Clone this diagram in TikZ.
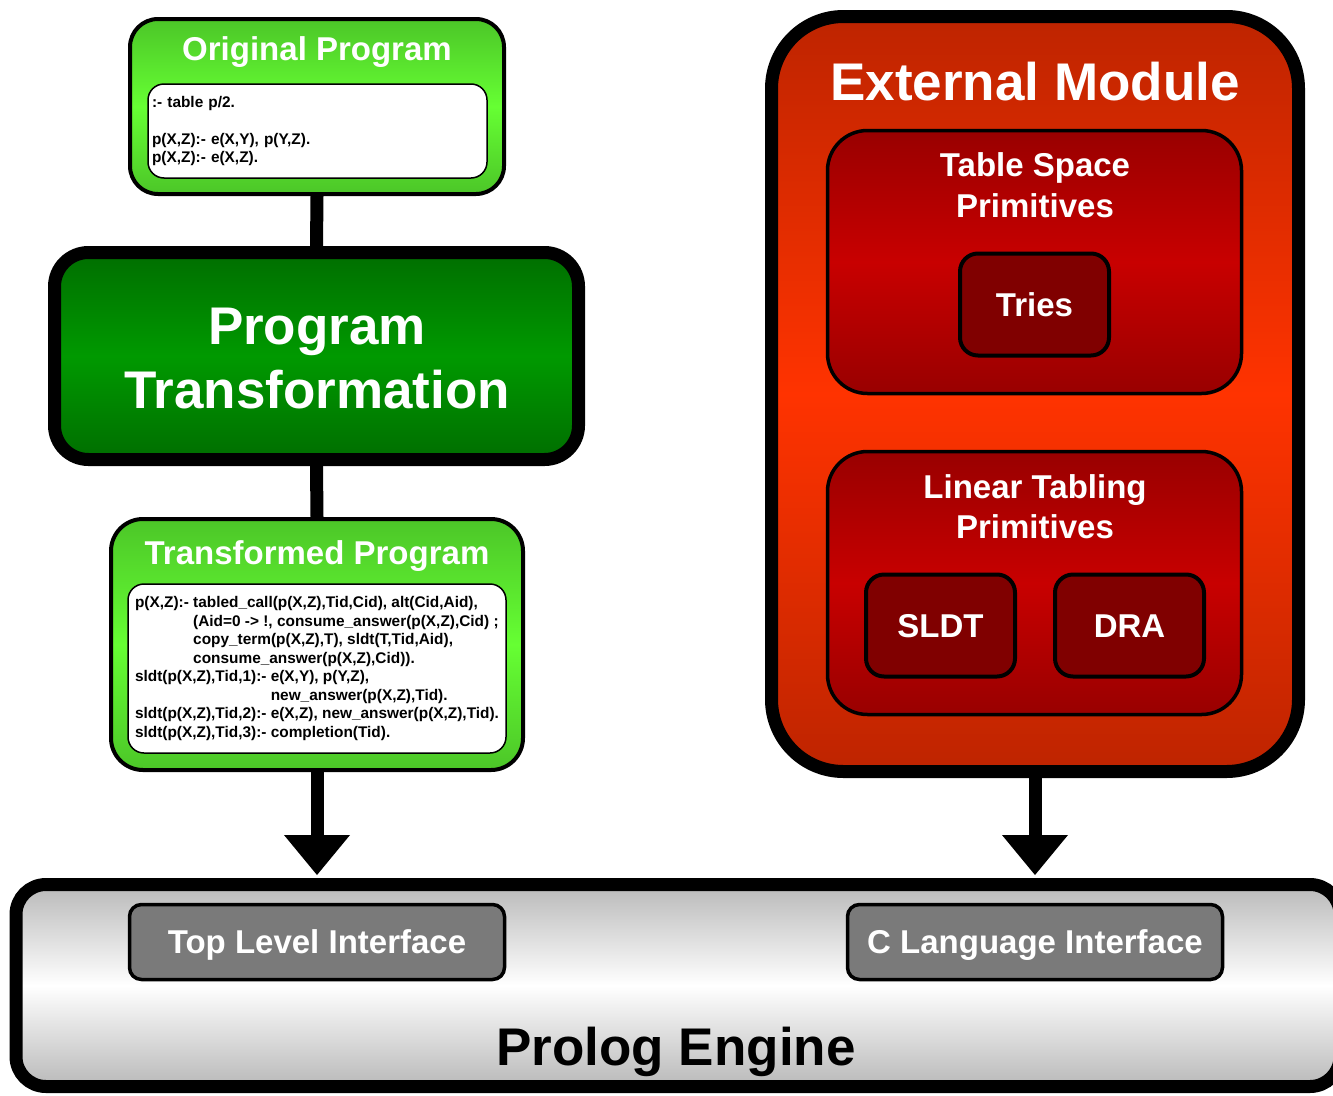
\documentclass[tikz,border=0pt]{standalone}
\usepackage{fontspec}
\setmainfont{Liberation Sans}
\usetikzlibrary{arrows.meta}
\definecolor{grnedge}{RGB}{76,198,40}
\definecolor{grnmid}{RGB}{102,255,51}
\definecolor{dgedge}{RGB}{0,110,0}
\definecolor{dgmid}{RGB}{0,153,0}
\definecolor{extedge}{RGB}{190,36,0}
\definecolor{extmid}{RGB}{255,51,0}
\definecolor{tsedge}{RGB}{153,0,0}
\definecolor{tsmid}{RGB}{200,0,0}
\definecolor{leaf}{RGB}{128,0,0}
\definecolor{peedge}{RGB}{185,185,185}
\definecolor{ifgray}{RGB}{122,122,122}
\begin{document}
\begin{tikzpicture}[x=1pt,y=-1pt,
  box/.style={draw=black, inner sep=0pt, anchor=center},
  greenbox/.style={box, line width=4pt, rounded corners=28pt, top color=grnedge, bottom color=grnedge, middle color=grnmid},
  codebox/.style={box, line width=1.5pt, rounded corners=16pt, fill=white, font=\bfseries\fontsize{15.4}{18.5}\selectfont},
  midtitle/.style={text=white, font=\bfseries\fontsize{33}{40}\selectfont, anchor=base, inner sep=0pt},
  bigtitle/.style={text=white, font=\bfseries\fontsize{53}{64}\selectfont, anchor=base, inner sep=0pt},
  subbox/.style={box, line width=3.5pt, rounded corners=40pt, top color=tsedge, bottom color=tsedge, middle color=tsmid},
  leafbox/.style={box, line width=4pt, rounded corners=18pt, fill=leaf, minimum width=149pt, minimum height=102pt,
     text=white, font=\bfseries\fontsize{33}{40}\selectfont, text height=23.6pt, text depth=0pt},
  ifbox/.style={box, line width=3.5pt, rounded corners=12pt, fill=ifgray, minimum width=375pt, minimum height=75pt,
     text=white, font=\bfseries\fontsize{33}{40}\selectfont, text height=23.6pt, text depth=0pt},
  conn/.style={line width=13pt, draw=black},
  arrowconn/.style={conn, -{Triangle[width=66pt,length=40pt,line width=0pt]}}
]
\useasboundingbox (0,0) rectangle (1333,1095);
\clip (0,0) rectangle (1333,1095);

% Left column
\node[greenbox, minimum width=374pt, minimum height=175pt] (orig) at (317,106.5) {};
\node[midtitle] (origT) at (317,60) {Original Program};
\node[codebox, minimum width=339pt, minimum height=94pt, text width=331pt, inner xsep=4pt, align=left] (origC) at (317.5,131)
  {:- table p/2.\\ \mbox{}\\ p(X,Z):- e(X,Y), p(Y,Z).\\ p(X,Z):- e(X,Z).};

\node[box, line width=13pt, rounded corners=34pt, minimum width=524pt, minimum height=207pt,
      top color=dgedge, bottom color=dgedge, middle color=dgmid] (pt) at (316.5,356) {};
\node[bigtitle] (ptA) at (317,344) {Program};
\node[bigtitle] (ptB) at (317,408) {Transformation};

\node[greenbox, rounded corners=32pt, minimum width=412pt, minimum height=251pt] (tp) at (317,644.5) {};
\node[midtitle] (tpT) at (317,564) {Transformed Program};
\node[codebox, minimum width=378pt, minimum height=169pt, align=left] (tpC) at (317,668.5)
  {p(X,Z):- tabled\_call(p(X,Z),Tid,Cid), alt(Cid,Aid),\\
   \phantom{p(X,Z):- }(Aid=0 -> !, consume\_answer(p(X,Z),Cid) ;\\
   \phantom{p(X,Z):- }copy\_term(p(X,Z),T), sldt(T,Tid,Aid),\\
   \phantom{p(X,Z):- }consume\_answer(p(X,Z),Cid)).\\
   sldt(p(X,Z),Tid,1):- e(X,Y), p(Y,Z),\\
   \phantom{sldt(p(X,Z),Tid,1):- }new\_answer(p(X,Z),Tid).\\
   sldt(p(X,Z),Tid,2):- e(X,Z), new\_answer(p(X,Z),Tid).\\
   sldt(p(X,Z),Tid,3):- completion(Tid).};

% Right column
\node[box, line width=13pt, rounded corners=72pt, minimum width=527pt, minimum height=755pt,
      top color=extedge, bottom color=extedge, middle color=extmid] (ext) at (1035,394) {};
\node[bigtitle] (extT) at (1035,100) {External Module};

\node[subbox, minimum width=414pt, minimum height=263pt] (ts) at (1034.5,262) {};
\node[midtitle] (tsA) at (1035,176) {Table Space};
\node[midtitle] (tsB) at (1035,217) {Primitives};
\node[leafbox] (tries) at (1034.5,304.5) {Tries};

\node[subbox, minimum width=414pt, minimum height=263pt] (lt) at (1034.5,583) {};
\node[midtitle] (ltA) at (1035,498) {Linear Tabling};
\node[midtitle] (ltB) at (1035,538) {Primitives};
\node[leafbox] (sldt) at (940.5,625.5) {SLDT};
\node[leafbox] (dra) at (1129.5,625.5) {DRA};

% Prolog engine
\node[box, line width=13pt, rounded corners=30pt, minimum width=1324pt, minimum height=202pt,
      top color=peedge, bottom color=peedge, middle color=white] (pe) at (678,985.5) {};
\node[ifbox] (tli) at (317,942) {Top Level Interface};
\node[ifbox] (cli) at (1035,942) {C Language Interface};
\node[anchor=base, inner sep=0pt, font=\bfseries\fontsize{53}{64}\selectfont] (peT) at (676,1065) {Prolog Engine};

% Connectors
\draw[conn] (orig.south) -- (pt.north);
\draw[conn] (pt.south) -- (tp.north);
\draw[arrowconn] (tp.south) -- ([yshift=3pt]tp.south |- pe.north);
\draw[arrowconn] (ext.south) -- ([yshift=3pt]ext.south |- pe.north);
\end{tikzpicture}
\end{document}
